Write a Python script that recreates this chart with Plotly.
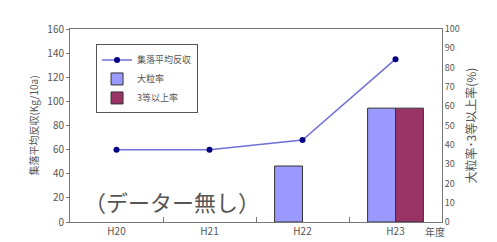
import plotly.graph_objects as go

categories = ["H20", "H21", "H22", "H23"]
yield_avg = [60, 60, 68, 135]
large_grain_rate = [None, None, 29, 59]
grade3_rate = [None, None, None, 59]

FONT = "Noto Sans CJK JP"

fig = go.Figure()
fig.add_trace(go.Scatter(
    x=categories, y=yield_avg, name="集落平均反収", yaxis="y",
    mode="lines+markers",
    line=dict(color="#6F6FD8", width=1.5),
    marker=dict(color="#000080", size=6),
))
fig.add_trace(go.Bar(
    x=categories, y=large_grain_rate, name="大粒率", yaxis="y2",
    marker=dict(color="#9999FF", line=dict(color="#333333", width=1)),
))
fig.add_trace(go.Bar(
    x=categories, y=grade3_rate, name="3等以上率", yaxis="y2",
    marker=dict(color="#993366", line=dict(color="#333333", width=1)),
))

fig.update_layout(
    width=497, height=242,
    margin=dict(l=62, r=63, t=18, b=26),
    paper_bgcolor="white", plot_bgcolor="white",
    barmode="group", bargap=0.4, bargroupgap=0,
    font=dict(family=FONT, color="#555555", size=10),
    showlegend=True,
    legend=dict(
        x=0.07, y=0.92, xanchor="left", yanchor="top",
        bordercolor="#555555", borderwidth=1, bgcolor="white",
        font=dict(size=9, color="#555555"),
        traceorder="normal", itemwidth=30,
        tracegroupgap=0,
    ),
    xaxis=dict(
        type="category", categoryorder="array", categoryarray=categories,
        range=[-0.5, 3.5],
        showline=True, linecolor="#777777", mirror=True,
        showgrid=False, zeroline=False,
        ticks="inside", tickson="boundaries", ticklen=5, tickcolor="#777777",
        tickfont=dict(size=10, color="#555555"),
    ),
    yaxis=dict(
        range=[0, 160], dtick=20,
        showline=True, linecolor="#777777",
        showgrid=False, zeroline=False, ticks="outside", ticklen=3, tickcolor="#777777",
        tickfont=dict(size=10, color="#555555"),
        title=dict(text="集落平均反収(Kg/10a)", font=dict(size=10, color="#555555"), standoff=6),
    ),
    yaxis2=dict(
        range=[0, 100], dtick=10, overlaying="y", side="right",
        showline=True, linecolor="#777777",
        showgrid=False, zeroline=False, ticks="",
        tickfont=dict(size=9, color="#555555"),
        title=dict(text="大粒率･3等以上率(%)", font=dict(size=12, color="#555555"), standoff=8),
    ),
    annotations=[
        dict(x=0.6, y=17, xref="x", yref="y", text="（データー無し）", showarrow=False,
             font=dict(size=22, color="#555555", family=FONT)),
        dict(x=0.981, y=-0.05, xref="paper", yref="paper", text="年度", showarrow=False,
             xanchor="center", yanchor="middle",
             font=dict(size=10, color="#555555", family=FONT)),
    ],
)

fig.write_html("out.html")
